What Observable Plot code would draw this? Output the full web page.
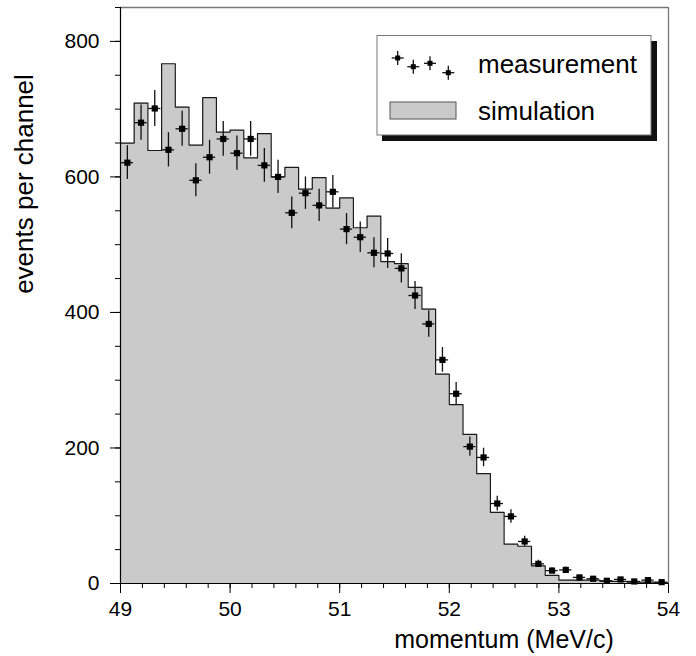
<!DOCTYPE html>
<html><head><meta charset="utf-8">
<script src="https://cdn.jsdelivr.net/npm/d3@7"></script>
<script src="https://cdn.jsdelivr.net/npm/@observablehq/plot@0.6"></script>
<style>body{margin:0;background:#fff}</style>
</head><body><div id="chart"></div>
<script>
const binStart = 49, binWidth = 0.125;
const simulation = [650,709,639,767,703,647,717,666,669,628,664,600,614,582,599,554,569,525,542,475,
  472,437,405,309,264,220,162,105,58,55,26,12,5,5,5,3,3,2,2,1];
const measurement = [621,680,701,640,671,595,629,656,635,656,617,600,547,576,558,578,523,511,488,487,
  465,425,383,330,280,202,186,118,99,62,29,19,20,9,7,4,6,3,5,2];
const xTicks = [49,50,51,52,53,54];
const yTicks = [0,200,400,600,800];
const xLabel = "momentum (MeV/c)";
const yLabel = "events per channel";
const legendLabels = ["measurement","simulation"];

const FONT = "'Liberation Sans', Arial, Helvetica, sans-serif";
const edges = simulation.map((_, i) => binStart + i * binWidth);
const simRows = simulation.map((v, i) => ({x: edges[i], y: v}));
simRows.push({x: binStart + simulation.length * binWidth, y: simulation[simulation.length - 1]});
const measRows = measurement.map((v, i) => ({x: edges[i] + binWidth / 2, y: v, err: Math.sqrt(v)}));

const plot = Plot.plot({
  width: 696, height: 656,
  marginLeft: 120, marginRight: 28, marginTop: 7, marginBottom: 73,
  style: {fontFamily: FONT, background: "#fff", color: "#000"},
  x: {domain: [49, 54]},
  y: {domain: [0, 850]},
  marks: [
    Plot.areaY(simRows, {x: "x", y: "y", curve: "step-after", fill: "#cacaca"}),
    Plot.lineY(simRows, {x: "x", y: "y", curve: "step-after", stroke: "#1a1a1a", strokeWidth: 1.2}),
    Plot.ruleX(measRows, {x: "x", y1: d => d.y - d.err, y2: d => d.y + d.err, stroke: "#111", strokeWidth: 1.3}),
    Plot.ruleY(measRows, {y: "y", x1: d => d.x - 0.056, x2: d => d.x + 0.056, stroke: "#111", strokeWidth: 1.3}),
    Plot.dot(measRows, {x: "x", y: "y", symbol: "square", r: 3.5, fill: "#000"}),
    Plot.ruleY([850], {stroke: "#777", strokeWidth: 1.3}),
    Plot.ruleX([54], {stroke: "#777", strokeWidth: 1.3}),
    Plot.ruleX([49], {stroke: "#000", strokeWidth: 1.2}),
    Plot.ruleY([0], {stroke: "#000", strokeWidth: 1.2}),
    Plot.axisX(d3.range(49, 54.001, 0.2), {tickSize: 5, tickFormat: () => "", label: null}),
    Plot.axisX(xTicks, {tickSize: 10, tickPadding: 8, fontSize: 21, label: null}),
    Plot.axisY(d3.range(0, 851, 50), {tickSize: 5, tickFormat: () => "", label: null}),
    Plot.axisY(yTicks, {tickSize: 10, tickPadding: 11, fontSize: 21, label: null})
  ]
});

const svg = d3.select(plot);
svg.append("text").attr("x", 504).attr("y", 648).attr("text-anchor", "middle")
  .attr("font-family", FONT).attr("font-size", 25).attr("fill", "#000").text(xLabel);
svg.append("text").attr("transform", "translate(32.5,184) rotate(-90)").attr("text-anchor", "middle")
  .attr("font-family", FONT).attr("font-size", 26).attr("fill", "#000").text(yLabel);

// legend
const lg = svg.append("g");
lg.append("rect").attr("x", 382).attr("y", 41).attr("width", 275).attr("height", 100).attr("fill", "#111");
lg.append("rect").attr("x", 377).attr("y", 35.5).attr("width", 274).attr("height", 99.5)
  .attr("fill", "#fff").attr("stroke", "#777").attr("stroke-width", 1);
[[397.7, 58], [413.3, 66.7], [430, 63.3], [448.3, 72.7]].forEach(([cx, cy]) => {
  lg.append("line").attr("x1", cx).attr("x2", cx).attr("y1", cy - 7).attr("y2", cy + 7).attr("stroke", "#111").attr("stroke-width", 1.3);
  lg.append("line").attr("x1", cx - 6).attr("x2", cx + 6).attr("y1", cy).attr("y2", cy).attr("stroke", "#111").attr("stroke-width", 1.3);
  lg.append("rect").attr("x", cx - 2.5).attr("y", cy - 2.5).attr("width", 5).attr("height", 5).attr("fill", "#000");
});
lg.append("rect").attr("x", 390).attr("y", 102).attr("width", 66).attr("height", 17)
  .attr("fill", "#cacaca").attr("stroke", "#555").attr("stroke-width", 1);
lg.append("text").attr("x", 478).attr("y", 73).attr("text-anchor", "start").attr("font-family", FONT).attr("font-size", 26).attr("fill", "#000").text(legendLabels[0]);
lg.append("text").attr("x", 478).attr("y", 120).attr("text-anchor", "start").attr("font-family", FONT).attr("font-size", 26).attr("fill", "#000").text(legendLabels[1]);

document.getElementById("chart").appendChild(plot);
</script>
</body></html>
